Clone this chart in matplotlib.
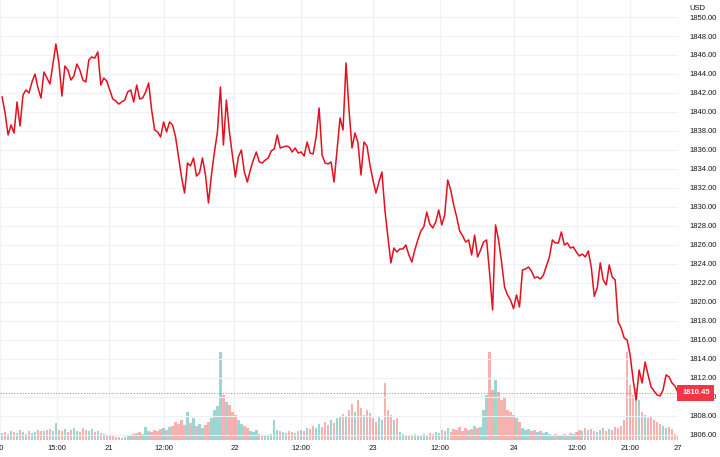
import numpy as np
import matplotlib
matplotlib.use('Agg')
import matplotlib.pyplot as plt
import matplotlib.transforms as mtransforms

# gold spot, 20 -> 27, one value per bar
price = [
    1841.58, 1839.90, 1837.58, 1838.63, 1837.79, 1841.05, 1838.53, 1841.79, 1842.32, 1842.00,
    1843.16, 1844.00, 1842.53, 1841.47, 1844.21, 1843.58, 1842.95, 1845.05, 1847.16, 1845.16,
    1841.68, 1844.84, 1844.42, 1843.37, 1843.79, 1845.05, 1844.42, 1843.37, 1843.16, 1845.47,
    1845.79, 1845.68, 1846.32, 1842.84, 1843.58, 1843.26, 1842.32, 1841.37, 1841.16, 1840.84,
    1841.05, 1841.26, 1842.11, 1842.32, 1841.05, 1842.84, 1841.37, 1841.47, 1842.11, 1843.05,
    1840.21, 1838.11, 1837.90, 1837.37, 1838.95, 1837.90, 1838.95, 1838.63, 1837.37, 1835.26,
    1833.16, 1831.47, 1834.63, 1834.32, 1835.16, 1833.26, 1833.58, 1835.16, 1833.37, 1830.42,
    1833.37, 1835.79, 1837.90, 1842.63, 1836.53, 1841.26, 1837.90, 1835.47, 1833.16, 1835.26,
    1836.00, 1833.68, 1832.63, 1833.90, 1834.95, 1835.79, 1834.74, 1834.63, 1834.95, 1835.16,
    1835.90, 1836.11, 1837.58, 1836.21, 1836.32, 1836.42, 1836.32, 1835.79, 1836.21, 1835.68,
    1835.79, 1835.37, 1836.84, 1835.68, 1835.58, 1837.37, 1840.42, 1835.47, 1834.63, 1834.53,
    1834.74, 1832.63, 1836.00, 1839.37, 1838.11, 1845.16, 1840.21, 1836.21, 1837.79, 1836.74,
    1833.37, 1836.84, 1836.42, 1834.42, 1832.84, 1831.47, 1832.63, 1833.68, 1829.68, 1826.84,
    1824.11, 1825.68, 1825.26, 1825.58, 1825.58, 1826.00, 1824.95, 1824.21, 1825.47, 1826.53,
    1827.47, 1827.90, 1829.47, 1828.21, 1827.79, 1828.42, 1829.68, 1828.11, 1829.16, 1832.84,
    1831.79, 1830.21, 1828.95, 1827.47, 1826.95, 1826.32, 1826.53, 1824.95, 1827.05, 1824.74,
    1825.47, 1826.32, 1826.53, 1823.05, 1819.16, 1828.11, 1826.53, 1824.21, 1821.58, 1820.74,
    1820.21, 1819.30, 1820.74, 1819.47, 1823.37, 1823.47, 1823.68, 1823.26, 1822.53, 1822.63,
    1822.42, 1822.84, 1823.79, 1824.74, 1826.53, 1826.21, 1826.21, 1827.37, 1826.00, 1826.21,
    1825.68, 1825.79, 1825.26, 1824.84, 1825.05, 1824.74, 1825.37, 1823.68, 1820.60, 1821.50,
    1824.11, 1822.32, 1821.79, 1823.90, 1822.63, 1822.32, 1817.90, 1817.26, 1816.21, 1816.00,
    1814.42, 1811.79, 1809.68, 1812.84, 1811.47, 1813.68, 1812.32, 1811.05, 1810.63, 1810.21,
    1810.11, 1810.74, 1812.32, 1812.11, 1811.47, 1811.16, 1810.45,
]

# volume per bar (hundreds of lots)
volume = [
    7, 8, 6, 9, 8, 7, 10, 8, 6, 9, 7, 8, 10, 9,
    9, 10, 11, 9, 17,
    10, 9, 11, 8, 10, 12, 9, 8, 12, 10, 9, 11, 8, 9, 7,
    6, 5, 4, 5, 3, 3, 2, 3, 4, 5, 6,
    7, 8, 6, 13, 9, 8, 10, 9, 11, 12, 10, 13,
    14, 18, 16, 20, 15, 28, 17, 22, 14, 16, 12, 15,
    18, 22, 30, 34,
    88, 45, 38, 35, 28,
    25, 20, 16, 14, 12,
    9, 8, 10, 6, 5, 4, 5, 6, 20,
    10, 9, 8, 7, 9, 8, 7, 9,
    10, 9, 12, 11, 14, 12, 16, 13, 18, 15, 20, 17, 22, 24,
    26, 23, 30, 36, 28, 40, 32, 25, 30, 27,
    22, 18, 24, 20,
    57, 30, 25, 20, 22,
    8, 6, 5, 4, 5, 6, 5, 4, 6, 5, 7,
    6, 8, 7, 10, 9, 12, 8, 11, 10, 13, 9, 12, 10, 11, 14, 12, 13,
    30, 45, 88, 50, 60, 48, 40, 42, 30,
    28, 25, 22, 18,
    12, 10, 11, 9, 10, 8, 9, 7, 8,
    6, 5, 6, 5, 4, 6, 5, 7, 6, 8, 10, 9, 12, 10, 11, 9, 8,
    10, 12, 9, 11, 10, 13, 12, 14, 20,
    88, 55, 45, 52, 40,
    28, 25, 22, 24, 20, 18, 16,
    14, 12, 13, 11, 6, 4,
]

tick_pos = [-0.7, 18.3, 35.7, 54, 77.7, 100, 124, 146.3, 171, 192.3, 210, 226]
tick_lab = ['20', '15:00', '21', '12:00', '22', '12:00', '23', '12:00', '24', '12:00', '21:00', '27']

plt.rcParams['font.family'] = ['Liberation Sans', 'DejaVu Sans']

x = np.arange(len(price))
up = np.r_[True, np.diff(price) >= 0]
colors = np.where(up, '#26a69a', '#ef5350')

fig = plt.figure(figsize=(7.2, 4.57), dpi=100)
axv = fig.add_axes([0, 17 / 457, 678 / 720, 440 / 457])
axv.bar(x, volume, width=0.8, color=colors, alpha=0.45, linewidth=0)
axv.set_ylim(0, 440)
axv.set_xlim(0, len(price) - 1)
axv.set_yticks([])
axv.set_xticks(tick_pos)
axv.set_xticklabels(tick_lab)
axv.tick_params(axis='x', length=0, labelsize=5.5, colors='#131722', pad=3.5)
axv.grid(axis='x', color='#eef1f7', lw=0.8)
axv.set_axisbelow(True)
for s in axv.spines.values():
    s.set_visible(False)

axp = axv.twinx()
axp.plot(x, price, color='#e5101e', lw=1.1, zorder=3)
axp.set_ylim(1805.47, 1851.79)
axp.set_yticks(np.arange(1806, 1851, 2))
axp.yaxis.set_major_formatter(lambda v, pos: f'{v:.2f}')
axp.tick_params(axis='y', length=0, labelsize=5.5, colors='#131722', pad=8)
axp.grid(axis='y', color='#eef1f7', lw=0.8)
axp.set_axisbelow(True)
for s in axp.spines.values():
    s.set_visible(False)

# last price line + tag
axp.axhline(price[-1], color='#ef5350', ls=(0, (1, 1.5)), lw=0.8, alpha=0.7, zorder=2)
trans = mtransforms.blended_transform_factory(axp.transAxes, axp.transData)
axp.text(1.006, price[-1], f'{price[-1]:.2f}', transform=trans, ha='left', va='center',
         fontsize=5.5, color='white', fontweight='bold', clip_on=False, zorder=5,
         bbox=dict(boxstyle='square,pad=0.6', fc='#f23645', ec='none'))

fig.text(689 / 720, 1 - 8 / 457, 'USD', fontsize=5.5, color='#131722', va='center')

fig.savefig('out.png', dpi=100)
